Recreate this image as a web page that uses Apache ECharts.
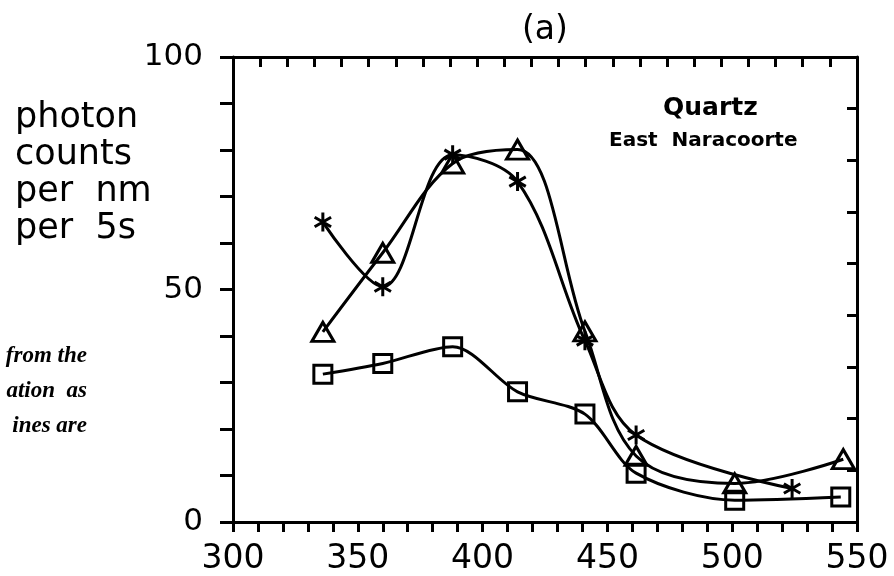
<!DOCTYPE html>
<html>
<head>
<meta charset="utf-8">
<script src="https://cdn.jsdelivr.net/npm/echarts@6/dist/echarts.min.js"></script>
<style>
html,body{margin:0;padding:0;background:#fff;}
#chart{width:894px;height:576px;}
</style>
</head>
<body>
<div id="chart"></div>
<script>
// Wavelength (nm) and photon counts per nm per 5 s
const starX = [336, 360, 388, 414, 441, 461.5, 524];
const starY = [64.5, 50.6, 79.0, 73.2, 39.0, 18.7, 7.2];
const triX = [336, 360, 388, 414, 441, 461.5, 501, 544.5];
const triY = [40.9, 57.9, 77.1, 80.1, 41.0, 14.2, 8.3, 13.5];
const sqX = [336, 360, 388, 414, 441, 461.5, 501, 543.5];
const sqY = [31.8, 34.1, 37.7, 28.0, 23.2, 10.5, 4.7, 5.4];
const xLabels = [300, 350, 400, 450, 500, 550];
const yLabels = [0, 50, 100];
const yTitleLines = ['photon', 'counts', 'per  nm', 'per  5s'];
const sideTextLines = ['from the', 'ation  as', 'ines are'];
const panelLabel = '(a)';
const sampleName = 'Quartz';
const siteName = 'East  Naracoorte';

function pairs(xs, ys) { return xs.map((x, i) => [x, ys[i]]); }

const chart = echarts.init(document.getElementById('chart'), null, {renderer: 'canvas'});
const FONT = 'DejaVu Sans';
const lineW = 3;
const starPath = 'path://M0,-10L0,10M-8.66,-5L8.66,5M-8.66,5L8.66,-5';

function mkSeries(data, symbol, size, smooth) {
  return {
    type: 'line',
    data: data,
    smooth: smooth,
    symbol: symbol,
    symbolSize: size,
    symbolKeepAspect: true,
    showSymbol: true,
    xAxisIndex: 0,
    yAxisIndex: 0,
    lineStyle: {color: '#000', width: lineW},
    itemStyle: {color: 'rgba(255,255,255,0)', borderColor: '#000', borderWidth: 3},
    emphasis: {disabled: true},
    animation: false
  };
}

const graphics = [];
yTitleLines.forEach((t, i) => {
  graphics.push({type: 'text', left: 15, top: 100 + i * 37,
    style: {text: t, font: '500 35px "' + FONT + '"', fill: '#000'}});
});
sideTextLines.forEach((t, i) => {
  graphics.push({type: 'text', right: 894 - 87, top: 345 + i * 35,
    style: {text: t, font: 'italic bold 23px "Liberation Serif"', fill: '#000', textAlign: 'right'}});
});
graphics.push({type: 'text', left: 522, top: 14,
  style: {text: panelLabel, font: '33px "' + FONT + '"', fill: '#000'}});
graphics.push({type: 'text', left: 663, top: 96,
  style: {text: sampleName, font: 'bold 25px "' + FONT + '"', fill: '#000'}});
graphics.push({type: 'text', left: 609, top: 131,
  style: {text: siteName, font: 'bold 20px "' + FONT + '"', fill: '#000'}});

const option = {
  backgroundColor: '#fff',
  animation: false,
  grid: {left: 233, right: 37, top: 57, bottom: 54, containLabel: false},
  xAxis: [
    {
      type: 'value', position: 'bottom', min: 300, max: 550, interval: 10,
      axisLine: {show: true, lineStyle: {color: '#000', width: lineW}},
      axisTick: {show: true, inside: false, length: 10, lineStyle: {color: '#000', width: lineW}},
      axisLabel: {show: true, margin: 21, color: '#000', fontFamily: FONT, fontSize: 33,
        formatter: v => xLabels.indexOf(v) >= 0 ? String(v) : ''},
      splitLine: {show: false}
    },
    {
      type: 'value', position: 'top', min: 0, max: 23, interval: 1,
      axisLine: {show: true, onZero: false, lineStyle: {color: '#000', width: lineW}},
      axisTick: {show: true, inside: true, length: 10, lineStyle: {color: '#000', width: lineW}},
      axisLabel: {show: false},
      splitLine: {show: false}
    }
  ],
  yAxis: [
    {
      type: 'value', position: 'left', min: 0, max: 100, interval: 10,
      axisLine: {show: true, onZero: false, lineStyle: {color: '#000', width: lineW}},
      axisTick: {show: true, inside: false, length: 13, lineStyle: {color: '#000', width: lineW}},
      axisLabel: {show: true, margin: 30, color: '#000', fontFamily: FONT, fontSize: 31,
        formatter: v => yLabels.indexOf(v) >= 0 ? String(v) : ''},
      splitLine: {show: false}
    },
    {
      type: 'value', position: 'right', min: 0, max: 9, interval: 1,
      axisLine: {show: true, onZero: false, lineStyle: {color: '#000', width: lineW}},
      axisTick: {show: true, inside: true, length: 10, lineStyle: {color: '#000', width: lineW}},
      axisLabel: {show: false},
      splitLine: {show: false}
    }
  ],
  series: [
    mkSeries(pairs(sqX, sqY), 'rect', 18, 0.3),
    mkSeries(pairs(triX, triY), 'triangle', [22, 19], 0.35),
    mkSeries(pairs(starX, starY), starPath, 19, 0.35)
  ],
  graphic: graphics
};
chart.setOption(option);
</script>
</body>
</html>
